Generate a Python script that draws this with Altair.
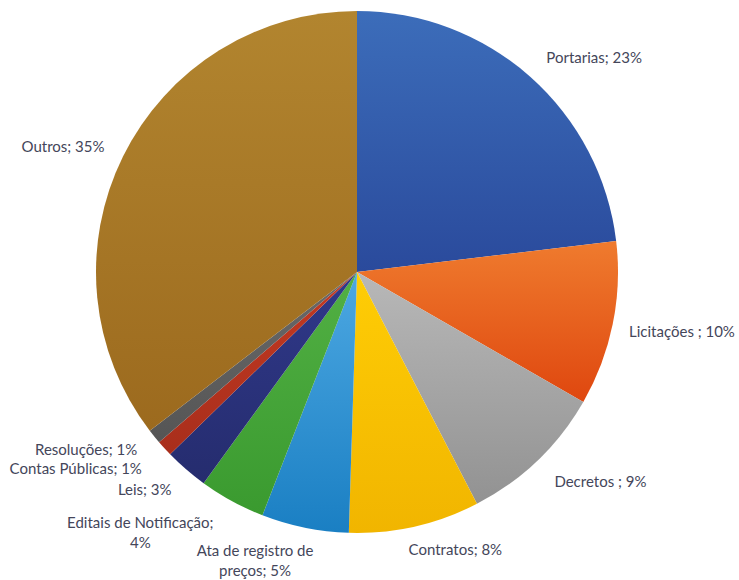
import math
import altair as alt
import pandas as pd

# ---- data ----
categories = ["Portarias", "Licitações", "Decretos", "Contratos", "Ata de registro de preços",
              "Editais de Notificação", "Leis", "Contas Públicas", "Resoluções", "Outros"]
values = [23.1, 10.2, 9.1, 8.1, 5.4, 4.1, 2.7, 1.0, 0.9, 35.4]
labels = ["Portarias; 23%", "Licitações ; 10%", "Decretos ; 9%", "Contratos; 8%",
          "Ata de registro de\npreços; 5%", "Editais de Notificação;\n4%", "Leis; 3%",
          "Contas Públicas; 1%", "Resoluções; 1%", "Outros; 35%"]

df = pd.DataFrame({"cat": categories, "value": values, "label": labels,
                   "order": list(range(len(categories)))})

# ---- styles ----
gradients = {
    "Portarias": ("#3C6DBA", "#2A4A9C"),
    "Licitações": ("#EF7B2E", "#DF470F"),
    "Decretos": ("#B8B8B8", "#929292"),
    "Contratos": ("#FFCD05", "#F1B500"),
    "Ata de registro de preços": ("#4DA8E2", "#1A7FC3"),
    "Editais de Notificação": ("#52B044", "#3A9A2F"),
    "Leis": ("#30398A", "#252C6E"),
    "Contas Públicas": ("#C43A22", "#A82E1C"),
    "Resoluções": ("#6A6A6A", "#555555"),
    "Outros": ("#B2852F", "#9C6A1E"),
}
label_offsets = {
    "Portarias": (38, 10),
    "Licitações": (31, 0),
    "Decretos": (36, -7),
    "Contratos": (32, -15),
    "Ata de registro de preços": (-42, -15),
    "Editais de Notificação": (-73, -12),
    "Leis": (-16, -9),
    "Contas Públicas": (-60, -6),
    "Resoluções": (-38, -11),
    "Outros": (-25, 8),
}

theta_scale = alt.Scale(domain=[0, 100], range=[0, 2 * math.pi])

base = alt.Chart(df).transform_window(
    cum="sum(value)", sort=[alt.SortField("order")], frame=[None, 0]
).transform_calculate(
    start="datum.cum - datum.value",
    end="datum.cum",
    mid="datum.cum - datum.value / 2",
)

layers = []
for cat in categories:
    c0, c1 = gradients[cat]
    grad = alt.LinearGradient(gradient="linear", x1=0, y1=0, x2=0, y2=1,
                              stops=[alt.GradientStop(color=c0, offset=0),
                                     alt.GradientStop(color=c1, offset=1)])
    layers.append(
        base.transform_filter(alt.datum.cat == cat).mark_arc(
            outerRadius=261, fill=grad, strokeWidth=0
        ).encode(
            theta=alt.Theta("start:Q", scale=theta_scale),
            theta2="end:Q",
        )
    )

for cat in categories:
    dx, dy = label_offsets[cat]
    layers.append(
        base.transform_filter(alt.datum.cat == cat).mark_text(
            radius=300, dx=dx, dy=dy, align="center", baseline="middle",
            font="Lato", fontSize=15, color="#44465A", lineBreak="\n", lineHeight=20
        ).encode(
            theta=alt.Theta("mid:Q", scale=theta_scale),
            text="label:N",
        )
    )

chart = alt.layer(*layers).properties(
    width=714, height=544,
    padding={"left": 0, "top": 0, "right": 25, "bottom": 36},
    autosize=alt.AutoSizeParams(type="none"),
    background="white",
).configure_view(stroke=None)

chart.save("out.html", embed_options={"renderer": "svg", "actions": False})
